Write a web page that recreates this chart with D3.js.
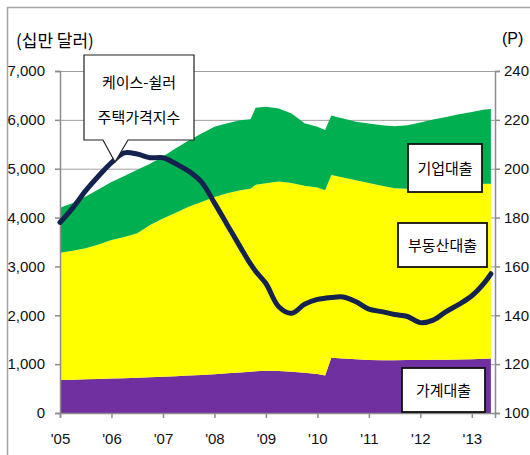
<!DOCTYPE html>
<html>
<head>
<meta charset="utf-8">
<script src="https://cdn.jsdelivr.net/npm/d3@7"></script>
<style>
  body { margin: 0; background: #fff; }
  svg { display: block; font-family: 'Liberation Sans', Arial, sans-serif; }
  .kr { font-family: 'Noto Sans CJK KR', 'Noto Sans', sans-serif; }
</style>
</head>
<body>
<div id="chart"></div>
<script>
// fractional years of each reading
let dates = [2005.0, 2005.25, 2005.5, 2005.75, 2006.0, 2006.25, 2006.5, 2006.75,
  2007.0, 2007.25, 2007.5, 2007.75, 2008.0, 2008.25, 2008.5, 2008.7, 2008.8,
  2009.0, 2009.25, 2009.5, 2009.75, 2010.0, 2010.15, 2010.27, 2010.5, 2010.75,
  2011.0, 2011.25, 2011.5, 2011.75, 2012.0, 2012.25, 2012.5, 2012.75,
  2013.0, 2013.25, 2013.37]

// 가계대출 (purple, bottom)
let household = [675, 683, 690, 698, 705, 712, 720, 730, 740, 752, 765, 780, 795, 812,
  830, 845, 852, 865, 858, 845, 825, 800, 770, 1130, 1118, 1100, 1085, 1082, 1082,
  1083, 1085, 1088, 1090, 1093, 1098, 1110, 1118]

// 부동산대출 (yellow, middle)
let realEstate = [2605, 2637, 2680, 2752, 2835, 2888, 2960, 3120, 3240, 3348, 3455,
  3540, 3625, 3688, 3730, 3745, 3818, 3835, 3882, 3865, 3825, 3815, 3790, 3740, 3702,
  3665, 3625, 3568, 3518, 3507, 3510, 3522, 3540, 3557, 3572, 3580, 3572]

// 기업대출 (green, top)
let business = [920, 980, 1060, 1130, 1190, 1250, 1300, 1250, 1270, 1320, 1360, 1400,
  1440, 1430, 1430, 1420, 1580, 1570, 1490, 1420, 1280, 1245, 1230, 1220, 1210, 1195,
  1215, 1240, 1270, 1300, 1350, 1395, 1430, 1465, 1490, 1520, 1530]

// 케이스-쉴러 주택가격지수 (right axis)
let caseShiller = [178, 184, 191, 197, 202.5, 206.5, 206, 204.5, 204.5, 202, 199, 194.5,
  186, 177, 168, 161, 158, 153, 143.5, 140.8, 144.5, 146.5, 147, 147.3, 147.5, 145.5,
  142.5, 141.5, 140.3, 139.5, 137, 138, 141.5, 144.5, 148, 153.5, 157]

let yearTicks = [2005, 2006, 2007, 2008, 2009, 2010, 2011, 2012, 2013]
let yearLabels = ["'05", "'06", "'07", "'08", "'09", "'10", "'11", "'12", "'13"]
let leftTicks = [0, 1000, 2000, 3000, 4000, 5000, 6000, 7000]
let rightTicks = [100, 120, 140, 160, 180, 200, 220, 240]

let layerKeys = ['household', 'realEstate', 'business']
let layerColors = ['#7030a0', '#ffff00', '#00b050']

let margin = { top: 71, left: 60, right: 35, bottom: 42 }
let width = 530 - margin.left - margin.right
let height = 455 - margin.top - margin.bottom

let svg = d3
  .select('#chart')
  .append('svg')
  .attr('width', 530)
  .attr('height', 455)

// outer frame
svg
  .append('rect')
  .attr('x', 7.5)
  .attr('y', 7.5)
  .attr('width', 600)
  .attr('height', 600)
  .attr('fill', 'none')
  .attr('stroke', '#a6a6a6')
  .attr('stroke-width', 1.5)

let g = svg.append('g').attr('transform', `translate(${margin.left}, ${margin.top})`)

let x = d3.scaleLinear().domain([2005, 2013.45]).range([0, width])
let yLeft = d3.scaleLinear().domain([0, 7000]).range([height, 0])
let yRight = d3.scaleLinear().domain([100, 240]).range([height, 0])

let rows = dates.map((d, i) => ({
  date: d,
  household: household[i],
  realEstate: realEstate[i],
  business: business[i],
  index: caseShiller[i]
}))

// gridlines
g.append('g')
  .selectAll('line')
  .data(leftTicks.filter(d => d > 0))
  .enter()
  .append('line')
  .attr('x1', 0)
  .attr('x2', width)
  .attr('y1', d => yLeft(d) + 0.5)
  .attr('y2', d => yLeft(d) + 0.5)
  .attr('stroke', '#a0a0a0')
  .attr('stroke-width', 1)

// stacked areas
let stacked = d3.stack().keys(layerKeys)(rows)
let area = d3
  .area()
  .x(d => x(d.data.date))
  .y0(d => yLeft(d[0]))
  .y1(d => yLeft(d[1]))

g.append('g')
  .selectAll('path')
  .data(stacked)
  .enter()
  .append('path')
  .attr('d', area)
  .attr('fill', (d, i) => layerColors[i])

// axes
let axisColor = '#8c8c8c'
let leftAxis = g.append('g').call(d3.axisLeft(yLeft).tickValues(leftTicks).tickSize(5).tickFormat(d3.format(',')))
let rightAxis = g
  .append('g')
  .attr('transform', `translate(${width}, 0)`)
  .call(d3.axisRight(yRight).tickValues(rightTicks).tickSize(5))
let bottomAxis = g
  .append('g')
  .attr('transform', `translate(0, ${height})`)
  .call(d3.axisBottom(x).tickValues(yearTicks).tickSize(5).tickFormat((d, i) => yearLabels[i]))

;[leftAxis, rightAxis, bottomAxis].forEach(ax => {
  ax.select('.domain').attr('stroke', axisColor).attr('stroke-width', 1.5)
  ax.selectAll('.tick line').attr('stroke', axisColor).attr('stroke-width', 1.5)
  ax.selectAll('text').attr('font-size', 15).attr('fill', '#111').attr('font-family', "'Liberation Sans', Arial, sans-serif")
})
leftAxis.selectAll('text').attr('x', -15)
rightAxis.selectAll('text').attr('x', 9)
bottomAxis.selectAll('text').attr('y', 20)

// house price index line
let line = d3
  .line()
  .x(d => x(d.date))
  .y(d => yRight(d.index))
  .curve(d3.curveCatmullRom)

g.append('path')
  .datum(rows)
  .attr('d', line)
  .attr('fill', 'none')
  .attr('stroke', '#14224f')
  .attr('stroke-width', 5)
  .attr('stroke-linecap', 'round')
  .attr('stroke-linejoin', 'round')

// unit labels
svg
  .append('text')
  .attr('class', 'kr')
  .attr('x', 16)
  .attr('y', 47)
  .attr('font-size', 17)
  .text('(십만 달러)')

svg
  .append('text')
  .attr('x', 502)
  .attr('y', 44)
  .attr('font-size', 16)
  .text('(P)')

// callout for the index
svg
  .append('path')
  .attr('d', 'M84,55 H194 V140 H128 L115,162 L103,140 H84 Z')
  .attr('fill', '#fff')
  .attr('stroke', '#222')
  .attr('stroke-width', 1.2)

let callout = svg.append('text').attr('class', 'kr').attr('text-anchor', 'middle').attr('font-size', 15)
callout.append('tspan').attr('x', 139).attr('y', 88).text('케이스-쉴러')
callout.append('tspan').attr('x', 139).attr('y', 123).text('주택가격지수')

// series labels
let boxes = [
  { label: '기업대출', x: 408, y: 144, w: 74, h: 48 },
  { label: '부동산대출', x: 398, y: 223, w: 89, h: 44 },
  { label: '가계대출', x: 402, y: 368, w: 83, h: 44 }
]

let box = svg
  .append('g')
  .selectAll('g')
  .data(boxes)
  .enter()
  .append('g')

box
  .append('rect')
  .attr('x', d => d.x)
  .attr('y', d => d.y)
  .attr('width', d => d.w)
  .attr('height', d => d.h)
  .attr('fill', '#fff')
  .attr('stroke', '#111')
  .attr('stroke-width', 1.8)

box
  .append('text')
  .attr('class', 'kr')
  .attr('x', d => d.x + d.w / 2)
  .attr('y', d => d.y + d.h / 2 + 6)
  .attr('text-anchor', 'middle')
  .attr('font-size', 15)
  .text(d => d.label)
</script>
</body>
</html>
